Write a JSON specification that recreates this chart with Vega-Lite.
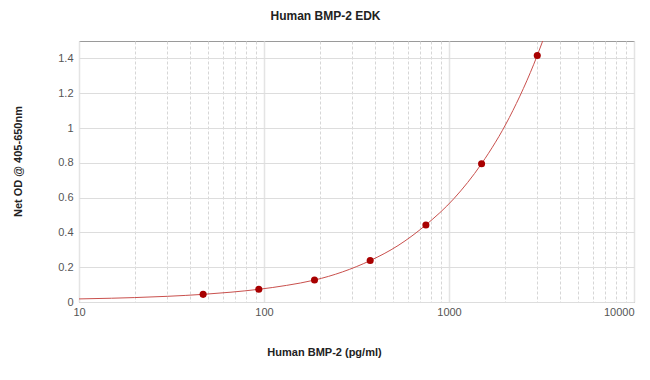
{
  "$schema": "https://vega.github.io/schema/vega-lite/v6.json",
  "width": 555,
  "height": 261,
  "autosize": {"type": "none"},
  "padding": {"left": 79, "top": 41, "right": 16, "bottom": 77},
  "background": "white",
  "title": {
    "text": "Human BMP-2 EDK",
    "font": "Liberation Sans",
    "fontSize": 12,
    "fontWeight": "bold",
    "color": "#222222",
    "anchor": "middle",
    "dx": -31,
    "offset": 18
  },
  "config": {
    "view": {"stroke": "#9a9a9a", "strokeWidth": 1},
    "axis": {
      "labelFont": "Liberation Sans",
      "labelFontSize": 11,
      "labelColor": "#555555",
      "titleFont": "Liberation Sans",
      "titleFontSize": 11,
      "titleFontWeight": "bold",
      "titleColor": "#222222",
      "domain": false,
      "ticks": false
    }
  },
  "datasets": {
    "standards": [
      {"conc": 46.875, "od": 0.044},
      {"conc": 93.75, "od": 0.073},
      {"conc": 187.5, "od": 0.126},
      {"conc": 375, "od": 0.238},
      {"conc": 750, "od": 0.443},
      {"conc": 1500, "od": 0.795},
      {"conc": 3000, "od": 1.417}
    ],
    "fit": [
      {"conc": 10, "od": 0.0177},
      {"conc": 15, "od": 0.0217},
      {"conc": 20, "od": 0.0255},
      {"conc": 30, "od": 0.0326},
      {"conc": 46.875, "od": 0.044},
      {"conc": 66.3, "od": 0.0564},
      {"conc": 93.75, "od": 0.073},
      {"conc": 132.6, "od": 0.0956},
      {"conc": 187.5, "od": 0.126},
      {"conc": 265.2, "od": 0.1727},
      {"conc": 375, "od": 0.238},
      {"conc": 530.3, "od": 0.3243},
      {"conc": 750, "od": 0.443},
      {"conc": 1060.7, "od": 0.5931},
      {"conc": 1500, "od": 0.795},
      {"conc": 2121, "od": 1.061},
      {"conc": 3000, "od": 1.417},
      {"conc": 3400, "od": 1.573}
    ]
  },
  "encoding": {
    "x": {
      "field": "conc",
      "type": "quantitative",
      "scale": {"type": "log", "domain": [10, 10000], "nice": false},
      "axis": {
        "title": "Human BMP-2 (pg/ml)",
        "titleX": 245,
        "titleY": 50,
        "titleAnchor": null,
        "titleAlign": "center",
        "titleBaseline": "middle",
        "values": [10, 20, 30, 40, 50, 60, 70, 80, 90, 100, 200, 300, 400, 500, 600, 700, 800, 900, 1000, 2000, 3000, 4000, 5000, 6000, 7000, 8000, 9000, 10000],
        "labelExpr": "indexof([10, 100, 1000, 10000], datum.value) >= 0 ? format(datum.value, 'd') : ''",
        "labelAlign": {"condition": {"test": "datum.value == 10000", "value": "right"}, "value": "center"},
        "labelPadding": 4,
        "labelBaseline": "top",
        "grid": true,
        "gridColor": {"condition": {"test": "indexof([10, 100, 1000, 10000], datum.value) >= 0", "value": "#e4e4e4"}, "value": "#d6d6d6"},
        "gridWidth": {"condition": {"test": "indexof([10, 100, 1000, 10000], datum.value) >= 0", "value": 1.5}, "value": 1},
        "gridDash": {"condition": {"test": "indexof([10, 100, 1000, 10000], datum.value) >= 0", "value": []}, "value": [3, 2]}
      }
    },
    "y": {
      "field": "od",
      "type": "quantitative",
      "scale": {"domain": [0, 1.5], "nice": false},
      "axis": {
        "title": "Net OD @ 405-650nm",
        "titleX": -61,
        "titleY": 120,
        "titleAnchor": null,
        "titleAlign": "center",
        "titleBaseline": "middle",
        "values": [0, 0.2, 0.4, 0.6, 0.8, 1, 1.2, 1.4],
        "format": "~g",
        "labelPadding": 6,
        "grid": true,
        "gridColor": "#dddddd",
        "gridWidth": 1
      }
    }
  },
  "layer": [
    {
      "data": {"name": "fit"},
      "mark": {"type": "line", "color": "#c9504d", "strokeWidth": 1, "interpolate": "monotone", "clip": true}
    },
    {
      "data": {"name": "standards"},
      "mark": {"type": "point", "filled": true, "color": "#a80000", "size": 50, "opacity": 1}
    }
  ]
}
